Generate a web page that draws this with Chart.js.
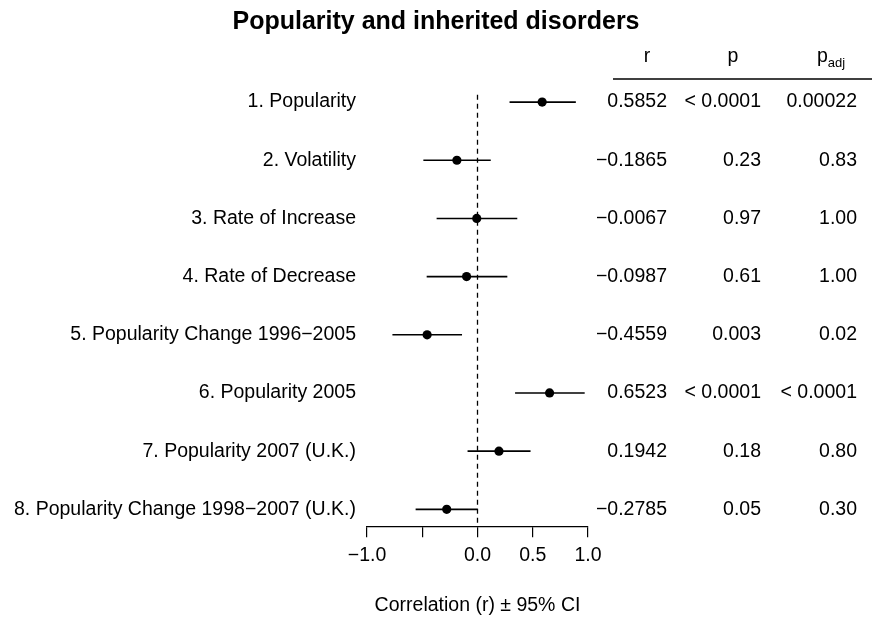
<!DOCTYPE html>
<html><head><meta charset="utf-8">
<script src="https://cdn.jsdelivr.net/npm/chart.js@4"></script>
<style>html,body{margin:0;padding:0;background:#fff}#wrap{width:872px;height:617px;position:relative}</style>
</head><body><div id="wrap"><canvas id="c"></canvas></div>
<script>
const categories = [
  '1. Popularity',
  '2. Volatility',
  '3. Rate of Increase',
  '4. Rate of Decrease',
  '5. Popularity Change 1996−2005',
  '6. Popularity 2005',
  '7. Popularity 2007 (U.K.)',
  '8. Popularity Change 1998−2007 (U.K.)'
];
const rValues = [0.5852, -0.1865, -0.0067, -0.0987, -0.4559, 0.6523, 0.1942, -0.2785];
const ciLow   = [0.29, -0.49, -0.37, -0.46, -0.77, 0.34, -0.09, -0.56];
const ciHigh  = [0.89, 0.12, 0.36, 0.27, -0.14, 0.97, 0.48, 0.00];
const pLabels    = ['< 0.0001', '0.23', '0.97', '0.61', '0.003', '< 0.0001', '0.18', '0.05'];
const padjLabels = ['0.00022', '0.83', '1.00', '1.00', '0.02', '< 0.0001', '0.80', '0.30'];
const xTickValues = [-1, -0.5, 0, 0.5, 1];
const xTickLabels = ['−1.0', '', '0.0', '0.5', '1.0'];

const FONT = "'Liberation Sans', Arial, Helvetica, sans-serif";
const FS = 19.5;
Chart.defaults.font.family = FONT;
Chart.defaults.color = '#000';

const rLabels = rValues.map(v => (v < 0 ? '−' : '') + Math.abs(v).toFixed(4));

const datasets = [];
categories.forEach((c, i) => {
  datasets.push({
    type: 'line',
    data: [{x: ciLow[i], y: i + 1}, {x: ciHigh[i], y: i + 1}],
    borderColor: '#000', borderWidth: 1.6, pointRadius: 0, fill: false
  });
});
datasets.push({
  type: 'line',
  data: [{x: 0, y: 0.875}, {x: 0, y: 8.29}],
  borderColor: '#000', borderWidth: 1.3, borderDash: [5, 4], pointRadius: 0, fill: false
});
datasets.push({
  type: 'scatter',
  data: rValues.map((v, i) => ({x: v, y: i + 1})),
  backgroundColor: '#000', borderWidth: 0, pointRadius: 4.6
});

const tablePlugin = {
  id: 'table',
  afterDraw(chart) {
    const ctx = chart.ctx;
    const ys = chart.scales.y;
    ctx.save();
    ctx.fillStyle = '#000';
    ctx.font = FS + 'px ' + FONT;
    ctx.textBaseline = 'middle';
    ctx.textAlign = 'right';
    categories.forEach((c, i) => {
      const y = ys.getPixelForValue(i + 1);
      ctx.fillText(rLabels[i], 667, y);
      ctx.fillText(pLabels[i], 761, y);
      ctx.fillText(padjLabels[i], 857, y);
    });
    ctx.textAlign = 'center';
    ctx.fillText('r', 647, 57);
    ctx.fillText('p', 733, 57);
    ctx.textAlign = 'left';
    ctx.fillText('p', 817, 57);
    const pw = ctx.measureText('p').width;
    ctx.font = '13px ' + FONT;
    ctx.fillText('adj', 817 + pw, 63);
    ctx.strokeStyle = '#000';
    ctx.lineWidth = 1.3;
    ctx.beginPath();
    ctx.moveTo(613, 79);
    ctx.lineTo(872, 79);
    ctx.stroke();
    ctx.restore();
  }
};

new Chart(document.getElementById('c'), {
  type: 'scatter',
  data: { datasets },
  options: {
    responsive: true,
    maintainAspectRatio: false,
    animation: false,
    layout: { padding: 0 },
    plugins: {
      legend: { display: false },
      tooltip: { enabled: false },
      title: {
        display: true,
        text: 'Popularity and inherited disorders',
        font: { size: 25, weight: 'bold', family: FONT },
        color: '#000',
        padding: { top: 7, bottom: 36 }
      }
    },
    scales: {
      x: {
        type: 'linear', min: -1, max: 1,
        afterBuildTicks: s => { s.ticks = xTickValues.map(v => ({value: v})); },
        ticks: {
          autoSkip: false, maxRotation: 0, padding: 7,
          font: { size: FS }, color: '#000',
          callback: (v) => { const k = xTickValues.indexOf(v); return k >= 0 ? xTickLabels[k] : ''; }
        },
        grid: { display: true, drawOnChartArea: false, drawTicks: true, tickLength: 11, color: '#000', lineWidth: 1.2 },
        border: { display: true, color: '#000', width: 1.2 },
        title: {
          display: true, text: 'Correlation (r) ± 95% CI',
          font: { size: FS }, color: '#000',
          padding: { top: 19, bottom: 0 }
        }
      },
      y: {
        type: 'linear', min: 0.5, max: 8.29, reverse: true, position: 'left',
        afterBuildTicks: s => { s.ticks = categories.map((c, i) => ({value: i + 1})); },
        afterFit: s => { s.width = 367; },
        ticks: {
          autoSkip: false, padding: 11, font: { size: FS }, color: '#000',
          callback: (v) => categories[v - 1] || ''
        },
        grid: { display: false, drawTicks: false },
        border: { display: false }
      },
      yR: {
        type: 'linear', position: 'right', display: true,
        afterFit: s => { s.width = 284; },
        ticks: { display: false },
        grid: { display: false, drawTicks: false },
        border: { display: false }
      }
    }
  },
  plugins: [tablePlugin]
});
</script>
</body></html>
